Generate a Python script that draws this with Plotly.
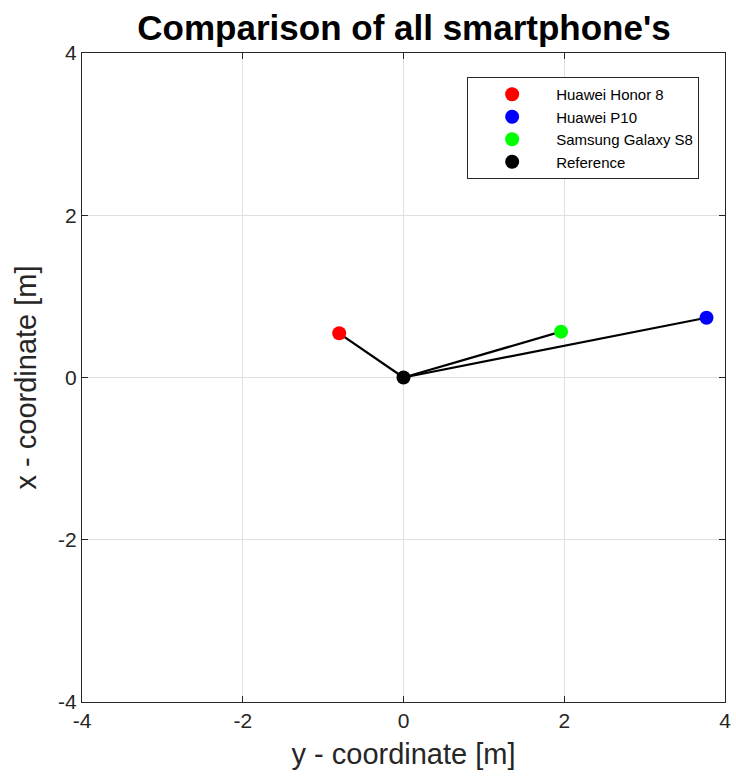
import plotly.graph_objects as go

names = ["Huawei Honor 8", "Huawei P10", "Samsung Galaxy S8", "Reference"]
y_coord = [-0.80, 3.77, 1.96, 0.0]   # horizontal axis
x_coord = [0.545, 0.737, 0.565, 0.0]  # vertical axis
colors = ["#ff0000", "#0000ff", "#00ff00", "#000000"]
ticks = [-4, -2, 0, 2, 4]

fig = go.Figure()
ref_y, ref_x = y_coord[3], x_coord[3]
for i in range(3):
    fig.add_trace(go.Scatter(x=[ref_y, y_coord[i]], y=[ref_x, x_coord[i]], mode="lines",
                             line=dict(color="black", width=2.2), showlegend=False, hoverinfo="skip"))
for n, xx, yy, c in zip(names, y_coord, x_coord, colors):
    fig.add_trace(go.Scatter(x=[xx], y=[yy], mode="markers", name=n,
                             marker=dict(color=c, size=14, line=dict(width=0))))

axis_common = dict(range=[-4, 4], tickvals=ticks, ticktext=[str(t) for t in ticks],
                   showgrid=True, gridcolor="#e0e0e0", gridwidth=1, zeroline=False,
                   showline=True, linecolor="#262626", linewidth=1, mirror="ticks",
                   ticks="inside", ticklen=6, tickcolor="#262626",
                   ticklabeloverflow="allow",
                   tickfont=dict(size=21, color="#262626"))
fig.update_xaxes(**axis_common, title=dict(text="y - coordinate [m]", font=dict(size=29, color="#262626"), standoff=12))
fig.update_yaxes(**axis_common, title=dict(text="x - coordinate [m]", font=dict(size=29, color="#262626"), standoff=12))

fig.update_layout(
    width=736, height=783,
    margin=dict(l=82, r=5, t=53, b=81),
    paper_bgcolor="white", plot_bgcolor="white",
    font=dict(family="Liberation Sans, Arial, sans-serif", color="#262626"),
    title=dict(text="<b>Comparison of all smartphone's</b>", x=0.549, xanchor="center",
               y=0.965, yanchor="middle", font=dict(size=35, color="black")),
    legend=dict(x=0.599, y=0.963, xanchor="left", yanchor="top", bgcolor="white",
                bordercolor="#262626", borderwidth=1, font=dict(size=15, color="black"),
                itemwidth=78, tracegroupgap=0),
    showlegend=True,
)
fig.write_html("out.html")
